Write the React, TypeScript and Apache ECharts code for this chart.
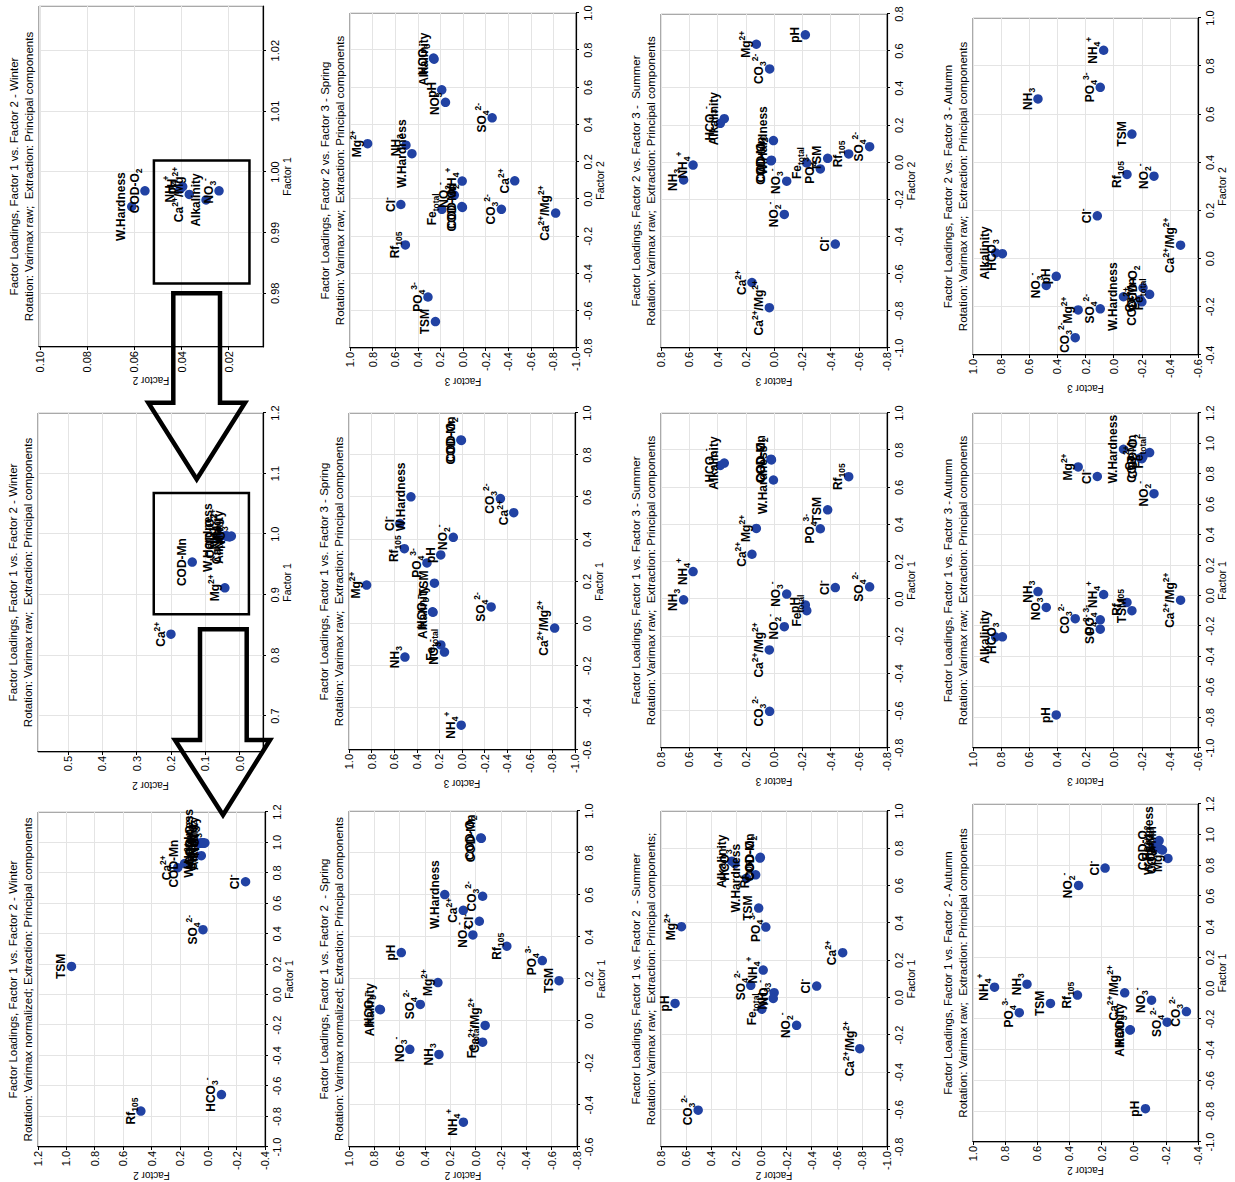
import React, { useEffect, useRef } from 'react';
import * as echarts from 'echarts';

const FONT = "'Liberation Sans', Arial, Helvetica, sans-serif";
const DOT = '#2142a3';

// ---------- Winter: Varimax normalized, Factor 1 / Factor 2 ----------
const winterNormNames = ['TSM', 'Rf_{105}', 'HCO_{3}^{-}', 'SO_{4}^{2-}', 'Cl^{-}', 'Ca^{2+}', 'COD-Mn', 'Mg^{2+}', 'W.Hardness', 'COD-O_{2}', 'pH', 'NH_{4}^{+}', 'Ca^{2+}/Mg^{2+}', 'Alkalinity', 'NO_{3}^{-}'];
const winterNormF1 = [0.186, -0.764, -0.656, 0.427, 0.742, 0.834, 0.861, 0.913, 0.994, 0.997, 0.9975, 0.997, 0.996, 0.995, 0.997];
const winterNormF2 = [0.964, 0.475, -0.093, 0.037, -0.263, 0.215, 0.167, 0.049, 0.061, 0.055, 0.040, 0.041, 0.037, 0.030, 0.024];

// ---------- Winter: Varimax raw, Factor 1 / Factor 2 ----------
const winterRawNames = ['Ca^{2+}', 'COD-Mn', 'Mg^{2+}', 'W.Hardness', 'COD-O_{2}', 'pH', 'NH_{4}^{+}', 'Ca^{2+}/Mg^{2+}', 'Alkalinity', 'NO_{3}^{-}'];
const winterRawF1 = [0.835, 0.954, 0.9115, 0.9943, 0.9969, 0.9976, 0.9972, 0.9963, 0.9954, 0.9969];
const winterRawF2 = [0.200, 0.138, 0.043, 0.0611, 0.0555, 0.0395, 0.0405, 0.0367, 0.0296, 0.0241];

// ---------- Spring ----------
const springNames = ['COD-Mn', 'COD-O_{2}', 'CO_{3}^{2-}', 'W.Hardness', 'Ca^{2+}', 'Cl^{-}', 'NO_{2}^{-}', 'Rf_{105}', 'pH', 'PO_{4}^{3-}', 'TSM', 'Mg^{2+}', 'SO_{4}^{2-}', 'HCO_{3}^{-}', 'Alkalinity', 'Ca^{2+}/Mg^{2+}', 'Fe_{total}', 'NO_{3}^{-}', 'NH_{3}', 'NH_{4}^{+}'];
const springF1 = [0.870, 0.872, 0.594, 0.602, 0.527, 0.475, 0.410, 0.356, 0.326, 0.288, 0.192, 0.183, 0.079, 0.056, 0.054, -0.021, -0.101, -0.135, -0.159, -0.482];
const springF2 = [-0.045, -0.040, -0.055, 0.244, 0.098, -0.029, 0.022, -0.246, 0.587, -0.526, -0.658, 0.298, 0.437, 0.758, 0.752, -0.075, -0.055, 0.520, 0.290, 0.097];
const springF3 = [0.005, 0.010, -0.340, 0.452, -0.458, 0.550, 0.077, 0.510, 0.188, 0.310, 0.244, 0.844, -0.258, 0.261, 0.256, -0.820, 0.187, 0.155, 0.505, 0.007];

// ---------- Summer ----------
const summerNames = ['CO_{3}^{2-}', 'pH', 'Mg^{2+}', 'Ca^{2+}', 'Cl^{-}', 'Ca^{2+}/Mg^{2+}', 'NO_{2}^{-}', 'NH_{4}^{+}', 'SO_{4}^{2-}', 'NO_{3}^{-}', 'NH_{3}', 'Fe_{total}', 'PO_{4}^{3-}', 'TSM', 'HCO_{3}^{-}', 'Alkalinity', 'COD-Mn', 'COD-O_{2}', 'W.Hardness', 'Rf_{105}'];
const summerF1 = [-0.603, -0.031, 0.380, 0.241, 0.062, -0.273, -0.148, 0.148, 0.066, 0.027, -0.004, -0.062, 0.378, 0.480, 0.718, 0.731, 0.752, 0.748, 0.640, 0.658];
const summerF2 = [0.504, 0.688, 0.637, -0.647, -0.440, -0.783, -0.280, -0.014, 0.085, -0.101, -0.094, -0.003, -0.035, 0.022, 0.211, 0.236, 0.009, 0.012, 0.118, 0.046];
const summerF3 = [0.031, -0.222, 0.125, 0.156, -0.434, 0.033, -0.073, 0.573, -0.677, -0.090, 0.640, -0.232, -0.328, -0.380, 0.380, 0.352, 0.021, 0.018, 0.004, -0.529];

// ---------- Autumn ----------
const autumnNames = ['NH_{4}^{+}', 'PO_{4}^{3-}', 'NH_{3}', 'TSM', 'Rf_{105}', 'NO_{2}^{-}', 'Cl^{-}', 'pH', 'Ca^{2+}/Mg^{2+}', 'NO_{3}^{-}', 'HCO_{3}^{-}', 'Alkalinity', 'SO_{4}^{2-}', 'CO_{3}^{2-}', 'Mg^{2+}', 'W.Hardness', 'COD-Mn', 'COD-O_{2}', 'Fe_{total}', 'Ca^{2+}'];
const autumnF1 = [0.008, -0.158, 0.027, -0.098, -0.044, 0.670, 0.783, -0.783, -0.029, -0.077, -0.270, -0.271, -0.220, -0.151, 0.846, 0.962, 0.900, 0.915, 0.940, 0.905];
const autumnF2 = [0.866, 0.712, 0.664, 0.518, 0.350, 0.343, 0.178, -0.073, 0.056, -0.111, 0.021, 0.024, -0.208, -0.328, -0.213, -0.158, -0.179, -0.121, -0.148, -0.170];
const autumnF3 = [0.071, 0.095, 0.538, -0.130, -0.095, -0.287, 0.116, 0.408, -0.476, 0.479, 0.791, 0.839, 0.095, 0.273, 0.252, -0.070, -0.201, -0.209, -0.256, -0.190];

const TITLE_NORM = 'Rotation: Varimax normalized; Extraction: Principal components';
const TITLE_RAW = 'Rotation: Varimax raw;  Extraction: Principal components';

type Pt = { name: string; value: [number, number] };
const pairs = (names: string[], a: number[], b: number[]): Pt[] =>
  names.map((n, i) => ({ name: n, value: [a[i], b[i]] }));

type Range = { name: string; min: number; max: number; step: number };
type Panel = {
  rect: [number, number, number, number]; // left, top, width, height
  x: Range;
  y: Range;
  dec: number;
  title: [string, string];
  points: Pt[];
  zoomBox?: [number, number, number, number];
};

const F = (n: number, min: number, max: number, step: number): Range => ({ name: 'Factor ' + n, min, max, step });

const panels: Panel[] = [
  // Winter
  { rect: [35, 38, 335, 227], x: F(1, -1.0, 1.2, 0.2), y: F(2, -0.4, 1.2, 0.2), dec: 1,
    title: ['Factor Loadings, Factor 1 vs. Factor 2 - Winter', TITLE_NORM], points: pairs(winterNormNames, winterNormF1, winterNormF2) },
  { rect: [430, 38, 339, 225], x: F(1, 0.6406, 1.2, 0.1), y: F(2, -0.068, 0.587, 0.1), dec: 1,
    title: ['Factor Loadings, Factor 1 vs. Factor 2 - Winter', TITLE_RAW], points: pairs(winterRawNames, winterRawF1, winterRawF2),
    zoomBox: [0.868, -0.027, 1.068, 0.25] },
  { rect: [835, 39, 341, 224], x: F(1, 0.97115, 1.02737, 0.01), y: F(2, 0.00546, 0.1004, 0.02), dec: 2,
    title: ['Factor Loadings, Factor 1 vs. Factor 2 - Winter', TITLE_RAW], points: pairs(winterRawNames, winterRawF1, winterRawF2),
    zoomBox: [0.9816, 0.0112, 1.0019, 0.0517] },
  // Spring
  { rect: [35, 349, 336, 228], x: F(1, -0.6, 1.0, 0.2), y: F(2, -0.8, 1.0, 0.2), dec: 1,
    title: ['Factor Loadings, Factor 1 vs. Factor 2  - Spring', TITLE_NORM], points: pairs(springNames, springF1, springF2) },
  { rect: [432, 349, 337, 226], x: F(1, -0.6, 1.0, 0.2), y: F(3, -1.0, 1.0, 0.2), dec: 1,
    title: ['Factor Loadings, Factor 1 vs. Factor 3 - Spring', TITLE_RAW], points: pairs(springNames, springF1, springF3) },
  { rect: [834, 350, 335, 226], x: F(2, -0.8, 1.0, 0.2), y: F(3, -1.0, 1.0, 0.2), dec: 1,
    title: ['Factor Loadings, Factor 2 vs. Factor 3 - Spring', TITLE_RAW], points: pairs(springNames, springF2, springF3) },
  // Summer
  { rect: [35, 661, 336, 226], x: F(1, -0.8, 1.0, 0.2), y: F(2, -1.0, 0.8, 0.2), dec: 1,
    title: ['Factor Loadings, Factor 1 vs. Factor 2  - Summer', 'Rotation: Varimax raw;  Extraction: Principal components;'], points: pairs(summerNames, summerF1, summerF2) },
  { rect: [434, 661, 335, 226], x: F(1, -0.8, 1.0, 0.2), y: F(3, -0.8, 0.8, 0.2), dec: 1,
    title: ['Factor Loadings, Factor 1 vs. Factor 3 - Summer', TITLE_RAW], points: pairs(summerNames, summerF1, summerF3) },
  { rect: [834, 661, 334, 226], x: F(2, -1.0, 0.8, 0.2), y: F(3, -0.8, 0.8, 0.2), dec: 1,
    title: ['Factor Loadings, Factor 2 vs. Factor 3 -  Summer', TITLE_RAW], points: pairs(summerNames, summerF2, summerF3) },
  // Autumn
  { rect: [40, 973, 338, 225], x: F(1, -1.0, 1.2, 0.2), y: F(2, -0.4, 1.0, 0.2), dec: 1,
    title: ['Factor Loadings, Factor 1 vs. Factor 2 - Autumn', TITLE_RAW], points: pairs(autumnNames, autumnF1, autumnF2) },
  { rect: [434, 973, 335, 225], x: F(1, -1.0, 1.2, 0.2), y: F(3, -0.6, 1.0, 0.2), dec: 1,
    title: ['Factor Loadings, Factor 1 vs. Factor 3 - Autumn', TITLE_RAW], points: pairs(autumnNames, autumnF1, autumnF3) },
  { rect: [827, 973, 337, 225], x: F(2, -0.4, 1.0, 0.2), y: F(3, -0.6, 1.0, 0.2), dec: 1,
    title: ['Factor Loadings, Factor 2 vs. Factor 3 - Autumn', TITLE_RAW], points: pairs(autumnNames, autumnF2, autumnF3) },
];

// Hollow arrows linking each zoom box to its enlarged view
const arrows: number[][][] = [
  [[888.7, 173.3], [779.3, 173.3], [779.3, 148.3], [702.7, 196.7], [779.3, 245], [779.3, 220], [888.7, 220]],
  [[552.7, 200], [442, 200], [442, 175], [367, 223], [442, 270], [442, 246.7], [552.7, 246.7]],
];

// "SO_{4}^{2-}" -> rich text tokens with subscripts / superscripts
function toRich(s: string): string {
  let out = '';
  let buf = '';
  let i = 0;
  while (i < s.length) {
    const c = s[i];
    if ((c === '_' || c === '^') && s[i + 1] === '{') {
      const end = s.indexOf('}', i + 2);
      if (buf) { out += `{n|${buf}}`; buf = ''; }
      out += `{${c === '_' ? 'sb' : 'sp'}|${s.slice(i + 2, end)}}`;
      i = end + 1;
    } else {
      buf += c;
      i++;
    }
  }
  if (buf) out += `{n|${buf}}`;
  return out;
}

const RICH = {
  n: { fontSize: 12, fontWeight: 'bold', fontFamily: FONT, color: '#000', lineHeight: 17 },
  sp: { fontSize: 8.5, fontWeight: 'bold', fontFamily: FONT, color: '#000', lineHeight: 9, verticalAlign: 'top' },
  sb: { fontSize: 8.5, fontWeight: 'bold', fontFamily: FONT, color: '#000', lineHeight: 9, verticalAlign: 'bottom' },
};

const isNice = (v: number, step: number) => Math.abs(v / step - Math.round(v / step)) < 1e-6;

function axisOf(r: Range, dec: number, gridIndex: number, isX: boolean, nameGap: number) {
  return {
    type: 'value',
    gridIndex,
    min: r.min,
    max: r.max,
    minInterval: r.step,
    maxInterval: r.step,
    name: r.name,
    nameLocation: 'middle',
    nameGap,
    nameRotate: isX ? 0 : 90,
    nameMoveOverlap: false,
    nameTextStyle: { fontSize: isX ? 10.5 : 10, fontFamily: FONT, color: '#000' },
    axisLine: { show: true, onZero: false, lineStyle: { color: '#000', width: 1.2 } },
    axisTick: { show: true, inside: false, length: 3, lineStyle: { color: '#000', width: 1 } },
    axisLabel: {
      fontSize: 11,
      fontFamily: FONT,
      color: '#000',
      margin: isX ? 6 : 4,
      showMinLabel: isNice(r.min, r.step),
      showMaxLabel: isNice(r.max, r.step),
      formatter: (v: number) => v.toFixed(dec),
    },
    splitLine: { show: true, lineStyle: { color: '#e4e4e4', width: 1 } },
  };
}

function buildOption() {
  const graphic: any[] = [];
  panels.forEach((p) => {
    const [l, t, w] = p.rect;
    const cx = l + w / 2;
    [p.title[0], p.title[1]].forEach((txt, k) => {
      graphic.push({
        type: 'text',
        x: cx,
        y: t - 25 + k * 15,
        silent: true,
        style: {
          text: txt,
          fontSize: 11.5,
          fontFamily: FONT,
          fill: '#000',
          align: 'center',
          verticalAlign: 'middle',
          textAlign: 'center',
          textVerticalAlign: 'middle',
        },
      });
    });
  });
  arrows.forEach((pts) => {
    graphic.push({
      type: 'polygon',
      z: 100,
      silent: true,
      shape: { points: pts },
      style: { fill: 'none', stroke: '#000', lineWidth: 4.5, lineJoin: 'miter' },
    });
  });

  return {
    animation: false,
    textStyle: { fontFamily: FONT },
    grid: panels.map((p) => ({
      left: p.rect[0],
      top: p.rect[1],
      width: p.rect[2],
      height: p.rect[3],
      show: true,
      borderColor: '#555',
      borderWidth: 1,
      backgroundColor: 'transparent',
      containLabel: false,
      outerBoundsMode: 'none',
    })),
    xAxis: panels.map((p, i) => axisOf(p.x, p.dec, i, true, 18)),
    // the outermost column sits against the page edge, so its name hugs the labels
    yAxis: panels.map((p, i) => axisOf(p.y, p.dec, i, false, p.rect[0] < 100 ? 23 : 28)),
    series: panels.map((p, i) => ({
      type: 'scatter',
      xAxisIndex: i,
      yAxisIndex: i,
      data: p.points,
      symbol: 'circle',
      symbolSize: 9.5,
      clip: true,
      itemStyle: { color: DOT, opacity: 1 },
      emphasis: { disabled: true },
      label: {
        show: true,
        position: 'top',
        distance: 0,
        offset: [0, 3],
        color: '#000',
        formatter: (prm: any) => toRich(prm.name),
        rich: RICH,
      },
      markArea: p.zoomBox
        ? {
            silent: true,
            itemStyle: { color: 'rgba(0,0,0,0)', borderColor: '#000', borderWidth: 2.5 },
            label: { show: false },
            data: [[{ coord: [p.zoomBox[0], p.zoomBox[1]] }, { coord: [p.zoomBox[2], p.zoomBox[3]] }]],
          }
        : undefined,
    })),
    graphic,
  };
}

export default function App() {
  const ref = useRef<HTMLDivElement>(null);
  useEffect(() => {
    if (!ref.current) return;
    const chart = echarts.init(ref.current, null, { renderer: 'svg' });
    chart.setOption(buildOption() as any);
    return () => chart.dispose();
  }, []);
  return (
    <div style={{ position: 'absolute', left: 0, top: 0, width: 1235, height: 1182, overflow: 'hidden', background: '#fff' }}>
      <div
        ref={ref}
        style={{
          position: 'absolute',
          left: 0,
          top: 0,
          width: 1182,
          height: 1235,
          transformOrigin: '0 0',
          transform: 'translate(0px, 1182px) rotate(-90deg)',
        }}
      />
    </div>
  );
}
